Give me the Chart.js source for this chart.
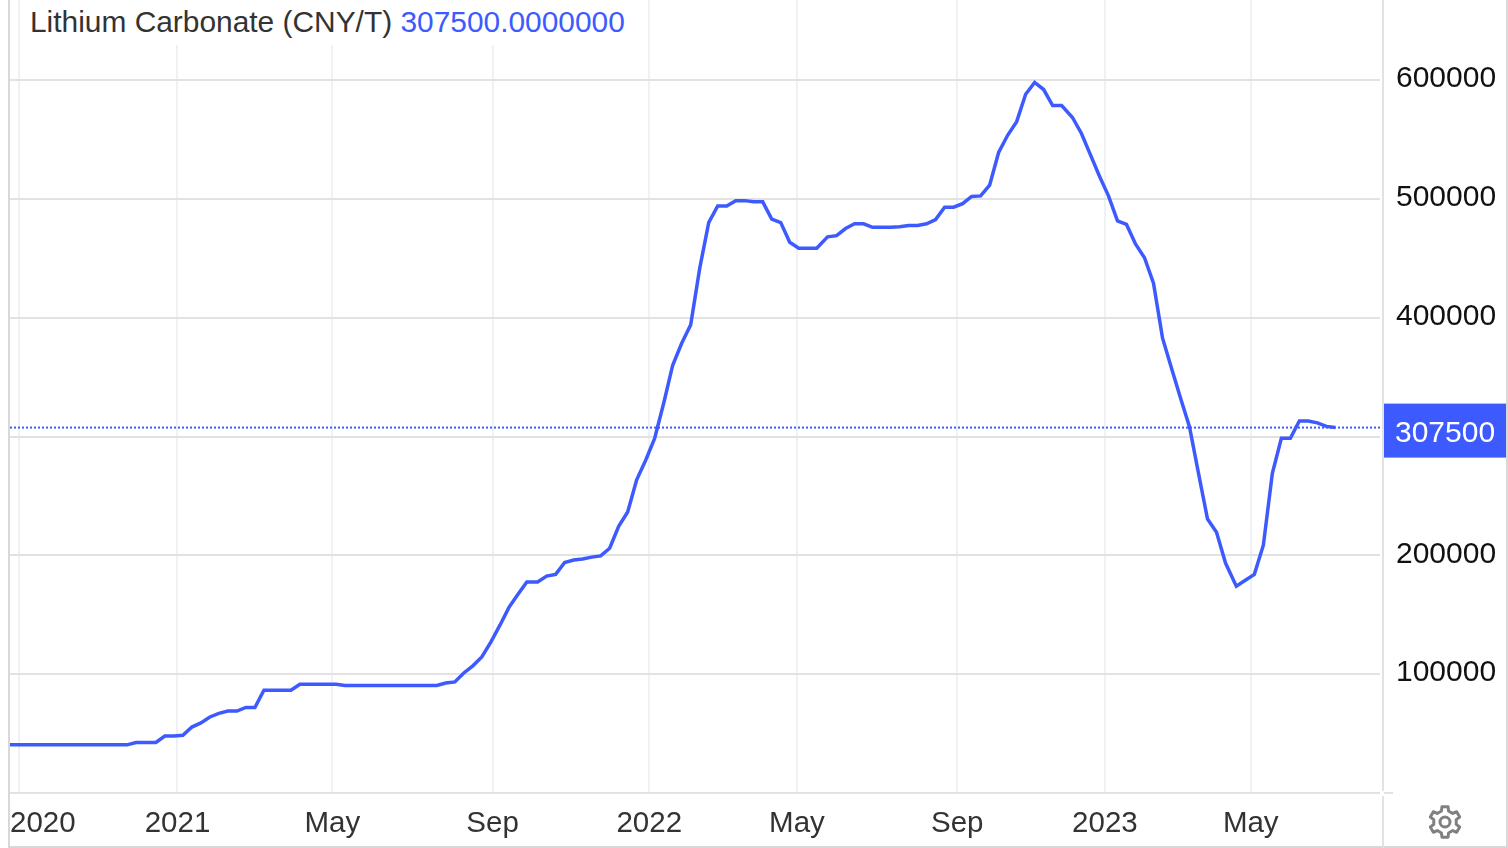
<!DOCTYPE html>
<html>
<head>
<meta charset="utf-8">
<title>Lithium Carbonate</title>
<style>
    html, body { margin: 0; padding: 0; background: #fff; overflow: hidden; }
    #wrap { position: relative; width: 1508px; height: 848px; }
    canvas { position: absolute; left: 0; top: 0; }
    #title {
        position: absolute; left: 28px; top: 0; height: 45px; width: 602px; padding-left: 2px;
        box-sizing: border-box; background: #fff; color: #333;
        font: 29.9px/44px "Liberation Sans", sans-serif; white-space: nowrap;
    }
    #title span { color: #3d5afe; }
    #gear { position: absolute; left: 1427px; top: 804px; }
</style>
<script src="https://cdn.jsdelivr.net/npm/chart.js@4"></script>
</head>
<body>
<div id="wrap">
    <canvas id="chart" width="1508" height="848"></canvas>
    <div id="title">Lithium Carbonate (CNY/T) <span>307500.0000000</span></div>
    <svg id="gear" width="36" height="36" viewBox="0 0 36 36"></svg>
</div>
<script>
// trading sessions counted from the left edge of the chart
const sessions = [0, 5, 10, 15, 20, 25, 30, 35, 40, 45, 50, 55, 60, 65,
    70, 75, 81, 86, 91, 96, 101, 106, 111, 116, 121, 126, 131, 136, 141, 146, 151, 156,
    161, 166, 171, 176, 181, 186, 191, 196, 201, 206, 211, 216, 221, 227, 232, 237,
    242, 247, 252, 257, 262, 267, 272, 277, 282, 287, 293, 298, 303, 308, 313, 318,
    323, 328, 333, 338, 343, 348, 353, 358, 363, 368, 373, 378, 383, 388, 393, 398,
    403, 408, 413, 418, 423, 428, 433, 438, 443, 448, 454, 459, 464, 469, 474, 479,
    484, 489, 494, 499, 504, 509, 514, 519, 524, 529, 534, 539, 544, 549, 554, 559,
    564, 569, 574, 579, 584, 590, 595, 600, 605, 610, 615, 620, 625, 630, 635, 640,
    645, 650, 655, 660, 665, 670, 675, 681, 686, 691, 696, 701, 706, 711, 716, 721,
    726, 731, 736];

const prices = [40500, 40500, 40500, 40500, 40500, 40500, 40500, 40500, 40500, 40500, 40500, 40500, 40500, 40500,
    42500, 42500, 42500, 48000, 48000, 48500, 55500, 59000, 64000, 67000, 69000, 69000, 72000, 72000, 86500, 86500, 86500, 86500,
    91500, 91500, 91500, 91500, 91500, 90500, 90500, 90500, 90500, 90500, 90500, 90500, 90500, 90500, 90500, 90500,
    92500, 93500, 101000, 107000, 114500, 127000, 141000, 156000, 167000, 177500, 177500, 182500, 184000, 194000, 196000, 197000,
    198500, 199500, 206000, 224500, 236500, 263500, 280000, 298500, 328000, 360000, 378500, 394000, 441500, 480000, 494000, 494000,
    498500, 498500, 497500, 497500, 483000, 480000, 463500, 458500, 458500, 458500, 468000, 469000, 475000, 479000, 479000, 476000,
    476000, 476000, 476500, 477500, 477500, 479000, 482500, 493000, 493000, 496000, 502000, 502500, 511500, 539000, 553500, 565000,
    588000, 598000, 592000, 578500, 578500, 568500, 555000, 537000, 519000, 502500, 481500, 478500, 462000, 450500, 429000, 383000,
    357500, 332500, 308000, 269000, 230500, 219500, 193500, 174000, 179000, 184000, 208500, 269000, 298500, 298500, 313000, 313000,
    311500, 308500, 307500];

const tickSessions = [5, 93, 179, 268, 355, 437, 526, 608, 689];
const tickLabels = ['2020', '2021', 'May', 'Sep', '2022', 'May', 'Sep', '2023', 'May'];
const priceTicks = [100000, 200000, 300000, 400000, 500000, 600000];
const lastPrice = 307500;

const BLUE = '#3d5afe';
const RULE = '#e2e2e2';
const FONT = '"Liberation Sans", sans-serif';

/**
 * Frame rules, the price badge and the first date label (it sits flush left)
 */
const framePlugin = {
    id: 'frame',
    beforeDatasetsDraw(chart) {
        const { ctx, chartArea } = chart;
        ctx.save();
        ctx.fillStyle = '#fff';
        ctx.fillRect(chartArea.right - 4, 0, 4, chartArea.bottom + 2);
        ctx.restore();
    },
    afterDraw(chart) {
        const { ctx, chartArea, scales } = chart;
        const right = chartArea.right;
        ctx.save();
        ctx.fillStyle = '#d8d8d8';
        ctx.fillRect(8, 0, 2, 848);
        ctx.fillRect(1506, 0, 2, 848);
        ctx.fillRect(8, 846, 1500, 2);
        ctx.fillStyle = RULE;
        ctx.fillRect(right - 2, 0, 2, chartArea.bottom - 2);
        ctx.fillRect(right - 2, chartArea.bottom + 3, 2, 848 - chartArea.bottom);
        ctx.fillRect(right + 1, chartArea.bottom - 1, 8, 2);

        const y = scales.y.getPixelForValue(lastPrice);
        ctx.fillStyle = BLUE;
        ctx.fillRect(right, y - 24, 122, 54);
        ctx.fillStyle = '#fff';
        ctx.font = '30px ' + FONT;
        ctx.textAlign = 'left';
        ctx.textBaseline = 'middle';
        ctx.fillText(String(lastPrice), right + 11, y + 6);

        ctx.fillStyle = '#333';
        ctx.font = '29.5px ' + FONT;
        ctx.fillText(tickLabels[0], chartArea.left, 824);
        ctx.restore();
    }
};

function noPadding(scale) {
    scale.paddingTop = 0;
    scale.paddingBottom = 0;
    scale.paddingLeft = 0;
    scale.paddingRight = 0;
}

new Chart(document.getElementById('chart').getContext('2d'), {
    type: 'line',
    data: {
        datasets: [{
            data: sessions.map((s, i) => ({ x: s, y: prices[i] })),
            borderColor: BLUE,
            borderWidth: 3.5,
            pointRadius: 0,
            tension: 0
        }, {
            data: [{ x: 0, y: lastPrice }, { x: 763, y: lastPrice }],
            borderColor: BLUE,
            borderWidth: 2,
            borderDash: [2, 2],
            pointRadius: 0
        }]
    },
    options: {
        responsive: false,
        animation: false,
        layout: { padding: { left: 10 } },
        plugins: { legend: { display: false }, tooltip: { enabled: false } },
        scales: {
            x: {
                type: 'linear',
                min: 0,
                max: 763,
                afterBuildTicks(scale) {
                    scale.ticks = tickSessions.map(v => ({ value: v }));
                },
                afterFit(scale) {
                    scale.height = 55;
                    noPadding(scale);
                },
                grid: { color: '#eef2f6', lineWidth: 2, drawTicks: false },
                border: { color: RULE, width: 2 },
                ticks: {
                    autoSkip: false,
                    maxRotation: 0,
                    padding: 13,
                    color: '#333',
                    font: { family: FONT, size: 29.5 },
                    callback: (v, i) => (i === 0 ? '' : tickLabels[i])
                }
            },
            y: {
                position: 'right',
                min: 0,
                max: 667340,
                afterBuildTicks(scale) {
                    scale.ticks = priceTicks.map(v => ({ value: v }));
                },
                afterFit(scale) {
                    scale.width = 124;
                    noPadding(scale);
                },
                grid: { color: RULE, lineWidth: 2, drawTicks: false },
                border: { display: false },
                ticks: {
                    padding: 12,
                    labelOffset: -1,
                    color: '#111',
                    font: { family: FONT, size: 30 },
                    callback: v => String(v)
                }
            }
        }
    },
    plugins: [framePlugin]
});

// settings gear under the price axis
(function drawGear() {
    const teeth = 6, cx = 18, cy = 18;
    let d = '';
    for (let i = 0; i < teeth; i++) {
        const a = (i / teeth) * Math.PI * 2 - Math.PI / 2;
        const step = Math.PI * 2 / teeth;
        const pts = [[a - step * 0.19, 15.5], [a + step * 0.19, 15.5], [a + step * 0.3, 11.5], [a + step * 0.7, 11.5]];
        pts.forEach((p, j) => {
            const x = cx + p[1] * Math.cos(p[0]);
            const y = cy + p[1] * Math.sin(p[0]);
            d += (i === 0 && j === 0 ? 'M' : 'L') + x.toFixed(2) + ' ' + y.toFixed(2);
        });
    }
    document.getElementById('gear').innerHTML =
        '<path d="' + d + 'Z" fill="none" stroke="#808080" stroke-width="3" stroke-linejoin="round"/>' +
        '<circle cx="18" cy="18" r="5" fill="none" stroke="#808080" stroke-width="3"/>';
})();
</script>
</body>
</html>
